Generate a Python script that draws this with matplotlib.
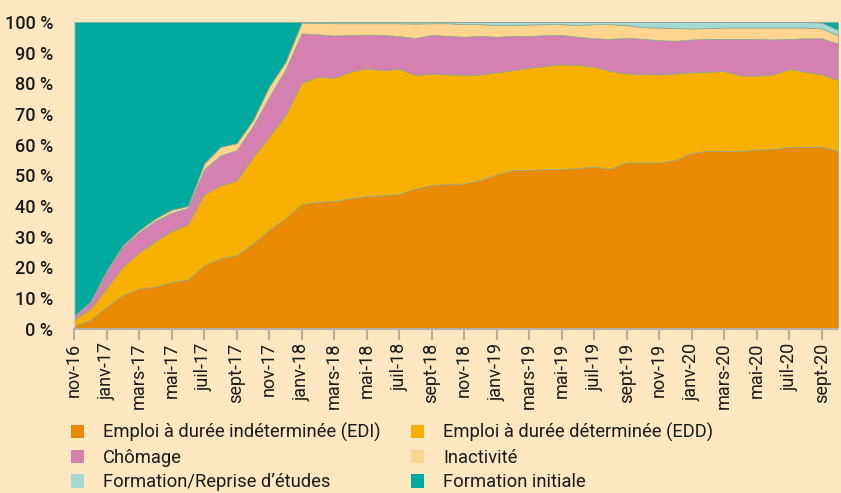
import numpy as np
import matplotlib
matplotlib.use("Agg")
import matplotlib.pyplot as plt
from matplotlib.patches import Patch

# ---- data (percent of cohort, monthly nov-16 .. oct-20) ----
edi = [0.9, 2.8, 7.1, 10.9, 13.1, 13.6, 15.2, 16.0, 20.7, 22.9, 23.9, 27.7,
       32.2, 36.0, 40.6, 41.3, 41.6, 42.4, 43.2, 43.5, 43.9, 45.7, 46.8, 47.2,
       47.3, 48.4, 50.3, 51.7, 51.7, 52.0, 52.0, 52.4, 52.8, 52.2, 54.2, 54.2,
       54.2, 55.0, 57.3, 58.0, 57.9, 57.9, 58.4, 58.5, 59.3, 59.3, 59.3, 57.9]
edd = [2.0, 3.5, 6.1, 9.4, 11.7, 14.9, 16.6, 18.0, 23.1, 23.8, 24.4, 28.2,
       30.4, 33.6, 39.6, 40.9, 40.2, 41.4, 41.7, 40.8, 40.8, 37.0, 36.4, 35.7,
       35.5, 34.5, 33.3, 32.6, 33.4, 33.7, 34.2, 33.6, 32.6, 31.8, 29.0, 28.8,
       28.7, 28.2, 26.3, 25.8, 26.1, 24.6, 24.1, 24.4, 25.4, 24.5, 23.6, 23.2]
chomage = [1.0, 2.3, 5.3, 6.4, 6.6, 6.6, 6.0, 5.4, 8.2, 9.8, 9.9, 10.1,
           13.0, 14.9, 16.1, 13.8, 13.8, 12.0, 11.0, 11.5, 10.7, 12.1, 12.6, 12.6,
           12.4, 12.6, 11.6, 11.2, 10.3, 10.1, 9.6, 9.2, 9.3, 10.5, 11.7, 11.5,
           11.2, 10.7, 10.7, 10.7, 10.5, 12.0, 12.0, 11.4, 9.8, 10.9, 11.8, 11.9]
inactivite = [0.2, 0.2, 0.5, 0.5, 0.7, 0.8, 1.0, 0.6, 1.9, 2.8, 2.3, 2.0,
              3.4, 2.5, 3.5, 3.7, 4.0, 3.8, 3.7, 3.8, 4.2, 4.7, 3.8, 4.1,
              4.1, 3.8, 3.8, 3.5, 3.8, 3.5, 3.5, 3.8, 4.6, 4.8, 4.1, 3.8,
              4.1, 4.1, 3.6, 3.5, 3.7, 3.7, 3.7, 3.9, 3.7, 3.5, 3.2, 2.6]
reprise = [0.0, 0.0, 0.0, 0.0, 0.0, 0.0, 0.0, 0.0, 0.0, 0.0, 0.0, 0.0,
           0.0, 0.0, 0.2, 0.3, 0.4, 0.4, 0.4, 0.4, 0.4, 0.5, 0.4, 0.4,
           0.7, 0.7, 1.0, 1.0, 0.8, 0.7, 0.7, 1.0, 0.7, 0.7, 1.0, 1.7,
           1.8, 2.0, 2.1, 2.0, 1.8, 1.8, 1.8, 1.8, 1.8, 1.8, 1.9, 1.8]
form_init = [95.9, 91.2, 81.0, 72.8, 67.9, 64.1, 61.2, 60.0, 46.1, 40.7, 39.5, 32.0,
             21.0, 13.0, 0.0, 0.0, 0.0, 0.0, 0.0, 0.0, 0.0, 0.0, 0.0, 0.0,
             0.0, 0.0, 0.0, 0.0, 0.0, 0.0, 0.0, 0.0, 0.0, 0.0, 0.0, 0.0,
             0.0, 0.0, 0.0, 0.0, 0.0, 0.0, 0.0, 0.0, 0.0, 0.0, 0.2, 2.6]

tick_labels = ["nov-16", "janv-17", "mars-17", "mai-17", "juil-17", "sept-17",
               "nov-17", "janv-18", "mars-18", "mai-18", "juil-18", "sept-18",
               "nov-18", "janv-19", "mars-19", "mai-19", "juil-19", "sept-19",
               "nov-19", "janv-20", "mars-20", "mai-20", "juil-20", "sept-20"]
series_labels = ["Emploi à durée indéterminée (EDI)", "Emploi à durée déterminée (EDD)",
                 "Chômage", "Inactivité", "Formation/Reprise d\u2019études",
                 "Formation initiale"]

colors = ["#EA8A00", "#F8B000", "#D480B0", "#FED58F", "#A3D8D3", "#00A99D"]
BG = "#FEE7C1"

plt.rcParams['font.family'] = ['Roboto', 'DejaVu Sans']

fig = plt.figure(figsize=(8.41, 4.93), dpi=100, facecolor=BG)
ax = fig.add_axes([74/841, 1-328.5/493, (838-74)/841, (328.5-22)/493])
ax.set_facecolor(BG)

x = np.arange(len(edi))
ax.stackplot(x, edi, edd, chomage, inactivite, reprise, form_init,
             colors=colors, linewidth=0.5, edgecolor="#8fa890")

ax.set_xlim(0, len(edi) - 1)
ax.set_ylim(0, 100)

ax.set_yticks(np.arange(0, 101, 10))
ax.set_yticklabels([f"{v} %" for v in range(0, 101, 10)], fontsize=13,
                   fontweight='medium', color="#1a1a1a")
ax.tick_params(axis='y', length=0, pad=15)

ax.set_xticks(x[::2])
ax.set_xticklabels(tick_labels, rotation=90, fontsize=13, color="#1a1a1a")
ax.tick_params(axis='x', length=8, width=1.5, color="#b8b0a2", pad=2)

for s in ["top", "right"]:
    ax.spines[s].set_visible(False)
ax.spines["left"].set_color("#d6cfc2")
ax.spines["left"].set_linewidth(1)
ax.spines["bottom"].set_color("#b8b0a2")
ax.spines["bottom"].set_linewidth(1.5)

handles = [Patch(facecolor=c, edgecolor='none') for c in colors]
common = dict(frameon=False, fontsize=13.2, handlelength=0.7, handleheight=0.75,
              handletextpad=1.05, labelspacing=0.36, borderaxespad=0, borderpad=0,
              labelcolor="#1a1a1a")
fig.legend([handles[0], handles[2], handles[4]],
           [series_labels[0], series_labels[2], series_labels[4]],
           loc='upper left', bbox_to_anchor=(71/841, 1-423/493), **common)
fig.legend([handles[1], handles[3], handles[5]],
           [series_labels[1], series_labels[3], series_labels[5]],
           loc='upper left', bbox_to_anchor=(411/841, 1-423/493), **common)

fig.savefig("out.png", dpi=100, facecolor=BG)
